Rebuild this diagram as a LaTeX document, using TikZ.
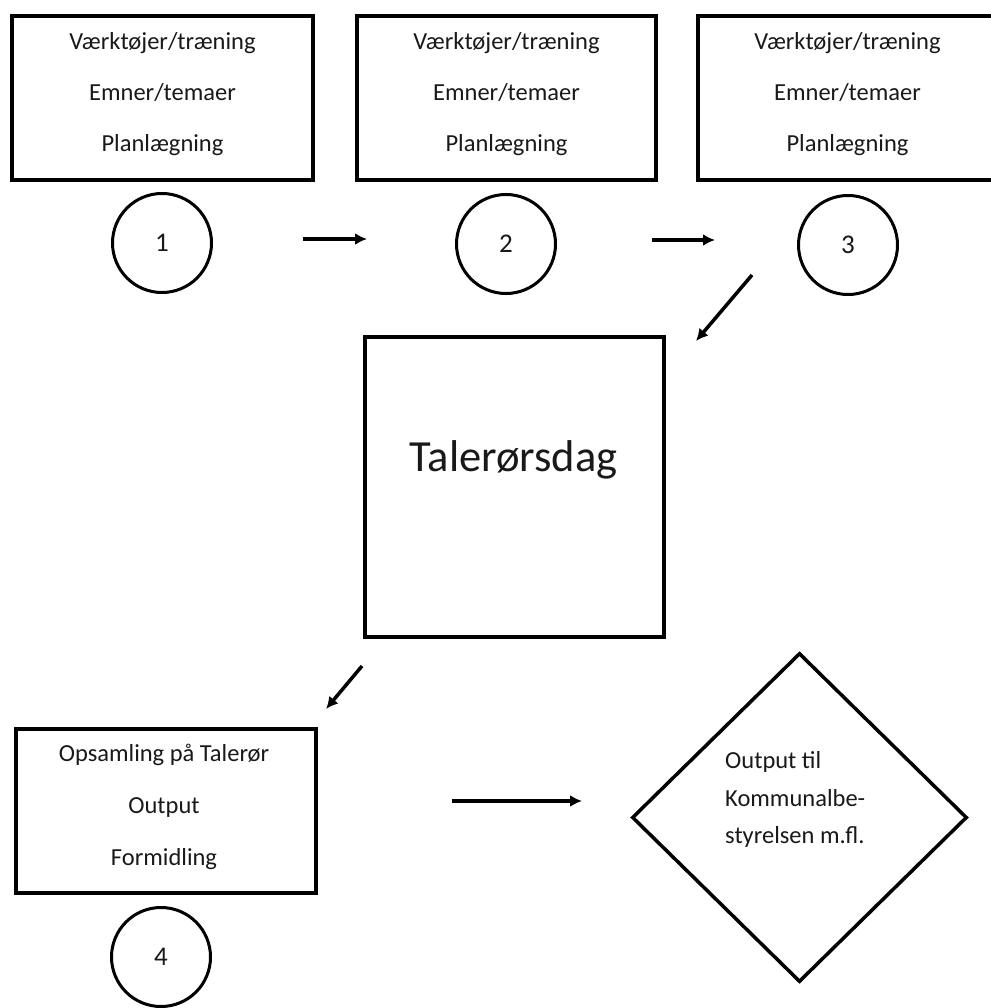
\documentclass[tikz,border=0pt]{standalone}
\usepackage{fontspec}
\setmainfont{Carlito}
\usetikzlibrary{arrows.meta,shapes.geometric}
\begin{document}
\begin{tikzpicture}[x=1pt,y=-1pt,
  boxnode/.style={draw=black,line width=4pt,rectangle,inner sep=0pt,minimum width=#1,minimum height=164pt},
  boxnode/.default=300pt,
  numcircle/.style={draw=black,line width=3pt,circle,inner sep=0pt,minimum size=99pt,font=\fontsize{27}{30}\selectfont,text=black!90},
  txt/.style={inner sep=0pt,anchor=base,font=\fontsize{24.5}{30}\selectfont,text=black!90},
  ltxt/.style={txt,anchor=base west},
  bigtxt/.style={inner sep=0pt,anchor=base,font=\fontsize{44.5}{50}\selectfont,text=black!90},
  arr/.style={line width=3.5pt,-{Latex[length=12pt,width=12pt]}},
  diam/.style={draw=black,line width=3.5pt,diamond,inner sep=0pt,minimum width=335pt,minimum height=329pt}
]
\useasboundingbox (0,0) rectangle (990,1008);
\fill[white] (0,0) rectangle (990,1008);

% top boxes
\node[boxnode=301pt] (b1) at (162.5,98) {};
\node[boxnode=299pt] (b2) at (506.5,98) {};
\node[boxnode=300pt] (b3) at (847.5,98) {};

\node[txt] (b1t1) at (162.5,50) {Værktøjer/træning};
\node[txt] (b1t2) at (162.5,101) {Emner/temaer};
\node[txt] (b1t3) at (162.5,152) {Planlægning};
\node[txt] (b2t1) at (506.5,50) {Værktøjer/træning};
\node[txt] (b2t2) at (506.5,101) {Emner/temaer};
\node[txt] (b2t3) at (506.5,152) {Planlægning};
\node[txt] (b3t1) at (847.5,50) {Værktøjer/træning};
\node[txt] (b3t2) at (847.5,101) {Emner/temaer};
\node[txt] (b3t3) at (847.5,152) {Planlægning};

% circles
\node[numcircle] (c1) at (162,243) {1};
\node[numcircle] (c2) at (506,244) {2};
\node[numcircle] (c3) at (848,245) {3};
\node[numcircle] (c4) at (161,957) {4};

% big box
\node[draw=black,line width=4pt,rectangle,inner sep=0pt,minimum width=299pt,minimum height=300pt] (big) at (514.5,487) {};
\node[bigtxt] (bigt) at (513.5,471) {Talerørsdag};

% bottom box
\node[boxnode=300pt] (b4) at (166,811) {};
\node[txt] (b4t1) at (164,761) {Opsamling på Talerør};
\node[txt] (b4t2) at (164,813) {Output};
\node[txt] (b4t3) at (164,865) {Formidling};

% diamond
\node[diam] (d) at (799.5,817.5) {};
\node[ltxt] (dt1) at (725,768) {Output til};
\node[ltxt] (dt2) at (725,806) {Kommunalbe-};
\node[ltxt] (dt3) at (725,843) {styrelsen m.fl.};

% arrows
\coordinate (a1s) at (303,239);
\coordinate (a1e) at (367,239);
\coordinate (a2s) at (652,240);
\coordinate (a2e) at (715,240);
\coordinate (a3s) at (752,275);
\coordinate (a3e) at (696,341);
\coordinate (a4s) at (362,666);
\coordinate (a4e) at (326,709);
\coordinate (a5s) at (452,801);
\coordinate (a5e) at (582,801);
\draw[arr] (a1s) -- (a1e);
\draw[arr] (a2s) -- (a2e);
\draw[arr] (a3s) -- (a3e);
\draw[arr] (a4s) -- (a4e);
\draw[arr] (a5s) -- (a5e);
\end{tikzpicture}
\end{document}
